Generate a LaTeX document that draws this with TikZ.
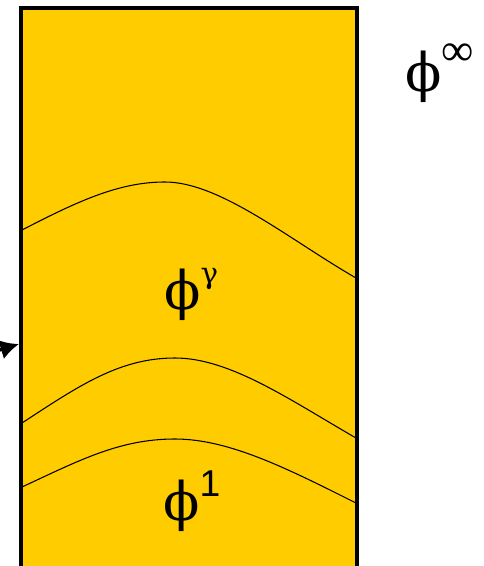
\documentclass[tikz,border=0pt]{standalone}
\usepackage{fontspec}
\setmainfont{DejaVu Serif}
\newfontfamily\arialfont{Liberation Sans}
\newfontfamily\timesfont{Liberation Serif}
\usetikzlibrary{arrows.meta,positioning}
\definecolor{slab}{RGB}{255,204,0}
\newcommand{\upidx}[2][0.5em]{\smash{\raisebox{#1}{#2}}}

\begin{document}
\begin{tikzpicture}[x=0.75pt,y=-0.75pt,
every node/.style={inner sep=0pt,anchor=west},
phase/.style={font=\fontsize{40}{40}\selectfont},
front/.style={line width=0.8pt}]
\useasboundingbox (0,0) rectangle (483,566);
\begin{scope}
\clip (0,0) rectangle (483,566);
\draw[fill=slab,line width=3pt] (21,600) -- (21,8) -- (357,8) -- (357,600);
\end{scope}
\coordinate (src) at (-20,356);
\coordinate (entry) at (19,344);
\draw[line width=2.5pt,-{Latex[length=14pt,width=15pt]}] (src)--(entry);
\draw[front] (22,230) .. controls (80,200) and (120,182) .. (165,182) .. controls (220,182) and (290,240) .. (356,278);
\draw[front] (22,423) .. controls (80,385) and (120,358) .. (175,358) .. controls (230,358) and (290,400) .. (356,438);
\draw[front] (22,487) .. controls (80,460) and (120,439) .. (175,439) .. controls (230,439) and (290,470) .. (356,503);
\node[phase] (Pg) at (164,295) {ϕ\upidx{\fontsize{22}{22}\selectfont γ}};
\node[phase] (P1) at (163,506) {ϕ\upidx[0.45em]{\arialfont\fontsize{28}{28}\selectfont 1}};
\node[phase] (Pi) at (405,77) {ϕ\upidx{\timesfont\fontsize{34}{34}\selectfont ∞}};
\end{tikzpicture}
\end{document}
